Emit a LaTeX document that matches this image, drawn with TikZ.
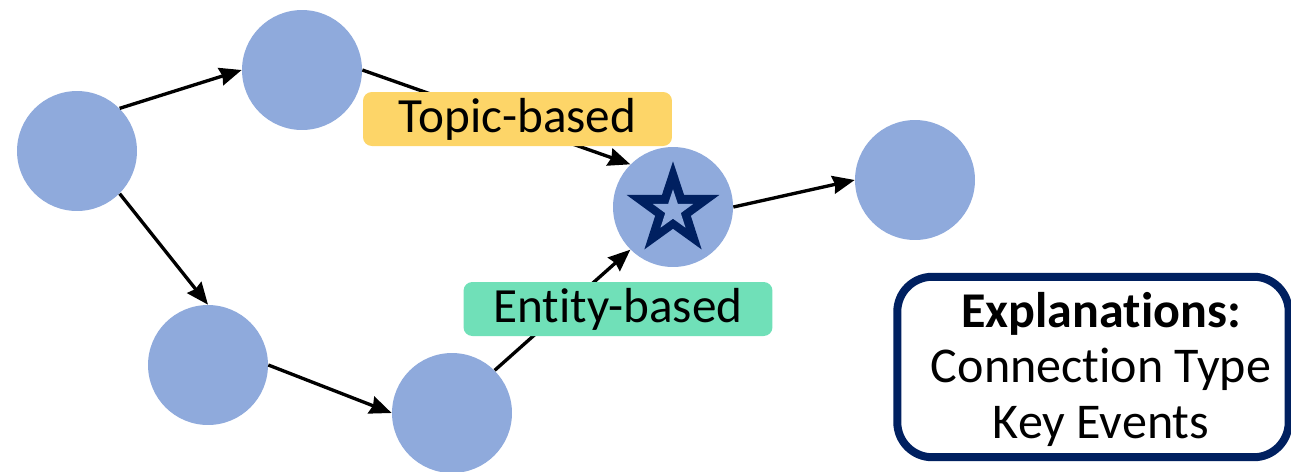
\documentclass[tikz,border=0pt]{standalone}
\usepackage{fontspec}
\setmainfont{Carlito}[Ligatures=NoCommon]
\usetikzlibrary{shapes.geometric,arrows.meta}
\definecolor{eventblue}{RGB}{143,170,220}
\definecolor{navy}{RGB}{0,32,96}
\definecolor{topicyellow}{RGB}{253,213,104}
\definecolor{entitygreen}{RGB}{112,224,184}

\begin{document}
\begin{tikzpicture}[x=0.02cm,y=-0.02cm]
\tikzstyle{event} = [circle, fill=eventblue, minimum size=2.4cm, inner sep=0pt]
\tikzstyle{link} = [-{Stealth[length=0.44cm,width=0.36cm,inset=0.04cm]}, line width=1.9pt]
\tikzstyle{tag} = [rounded corners=5pt, minimum width=6.18cm, minimum height=1.08cm, inner sep=0pt, font=\fontsize{28}{30}\selectfont]
\tikzstyle{keystar} = [star, star points=5, star point ratio=2.6, inner sep=0pt]
\tikzstyle{legendline} = [anchor=base, inner sep=0pt, font=\fontsize{28.5}{32}\selectfont]
\useasboundingbox (0,0) rectangle (1291,471);

\node [event] (a) at (77, 151) {};
\node [event] (b) at (302, 70) {};
\node [event] (c) at (673, 207) {};
\node [event] (d) at (915, 180) {};
\node [event] (e) at (208, 365) {};
\node [event] (f) at (452, 413) {};

\node [keystar, fill=navy, minimum size=1.95cm] (cs) at (673, 210) {};
\node [keystar, fill=eventblue, minimum size=0.85cm] (csi) at (673, 210.5) {};

\draw [link] (a.45) -- (b.west);
\draw [link] (b.east) -- (c.north west);
\draw [link] (a.south east) -- (e.north);
\draw [link] (e.east) -- (f.west);
\draw [link] (f.north east) -- (c.south west);
\draw [link] (c.east) -- (d.west);

\node [tag, fill=topicyellow] (topic) at (517.5, 119) {Topic-based};
\node [tag, fill=entitygreen] (entity) at (618, 309) {Entity-based};

\node [draw=navy, line width=0.16cm, rounded corners=0.7cm, minimum width=7.83cm, minimum height=3.61cm] (legend) at (1093, 367) {};
\node [legendline] (lhead) at (1101, 327) {\textbf{Explanations:}};
\node [legendline] (ltype) at (1101, 382) {Connection Type};
\node [legendline] (lkey) at (1101, 438) {Key Events};
\end{tikzpicture}
\end{document}
